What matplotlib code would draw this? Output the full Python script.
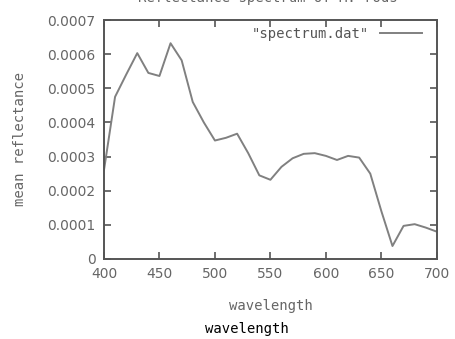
import matplotlib
matplotlib.use('Agg')
import matplotlib.pyplot as plt

# values
wavelength = [400, 410, 420, 430, 440, 450, 460, 470, 480, 490, 500,
              510, 520, 530, 540, 550, 560, 570, 580, 590, 600,
              610, 620, 630, 640, 650, 660, 670, 680, 690, 700]
reflectance = [0.00026, 0.000475, 0.00054, 0.000603, 0.000545, 0.000536, 0.000632, 0.000582, 0.00046, 0.00040, 0.000347,
               0.000355, 0.000367, 0.00031, 0.000245, 0.000232, 0.00027, 0.000295, 0.000308, 0.00031, 0.000302,
               0.00029, 0.000302, 0.000297, 0.00025, 0.00014, 0.000038, 0.000097, 0.000102, 0.000092, 0.00008]
x_ticks = [400, 450, 500, 550, 600, 650, 700]
y_ticks = [0, 0.0001, 0.0002, 0.0003, 0.0004, 0.0005, 0.0006, 0.0007]
y_tick_labels = ['0', '0.0001', '0.0002', '0.0003', '0.0004', '0.0005', '0.0006', '0.0007']

grey = '#666666'
mono = 'DejaVu Sans Mono'

fig = plt.figure(figsize=(4.56, 3.39), dpi=100)
ax = fig.add_axes([0.228, 0.236, 0.73, 0.705])

ax.plot(wavelength, reflectance, color='#808080', lw=1.4, label='"spectrum.dat"')

ax.set_xlim(400, 700)
ax.set_ylim(0, 0.0007)
ax.set_xticks(x_ticks)
ax.set_yticks(y_ticks)
ax.set_yticklabels(y_tick_labels)
ax.tick_params(direction='in', length=5, width=1.2, color='#555555',
               top=True, right=True, labelcolor=grey, labelsize=10, pad=6)
for s in ax.spines.values():
    s.set_color('#555555')
    s.set_linewidth(1.4)

ax.set_xlabel('wavelength', family=mono, fontsize=10, color=grey, labelpad=13)
ax.set_ylabel('mean reflectance', family=mono, fontsize=10, color=grey, labelpad=15)

leg = ax.legend(loc='upper right', bbox_to_anchor=(0.985, 1.012), frameon=False,
                markerfirst=False, handlelength=3.0, borderaxespad=0.3,
                prop={'family': mono, 'size': 10})
for t in leg.get_texts():
    t.set_color('#555555')

# title is mostly cut off at the top edge of the picture
fig.text(0.588, 1.005, 'Reflectance spectrum of M. rods', family=mono,
         fontsize=10, color=grey, ha='center', va='center')

# caption below the chart
fig.text(0.541, 0.03, 'wavelength', family=mono, fontsize=10,
         color='black', ha='center', va='center')

fig.savefig('out.png', dpi=100)
